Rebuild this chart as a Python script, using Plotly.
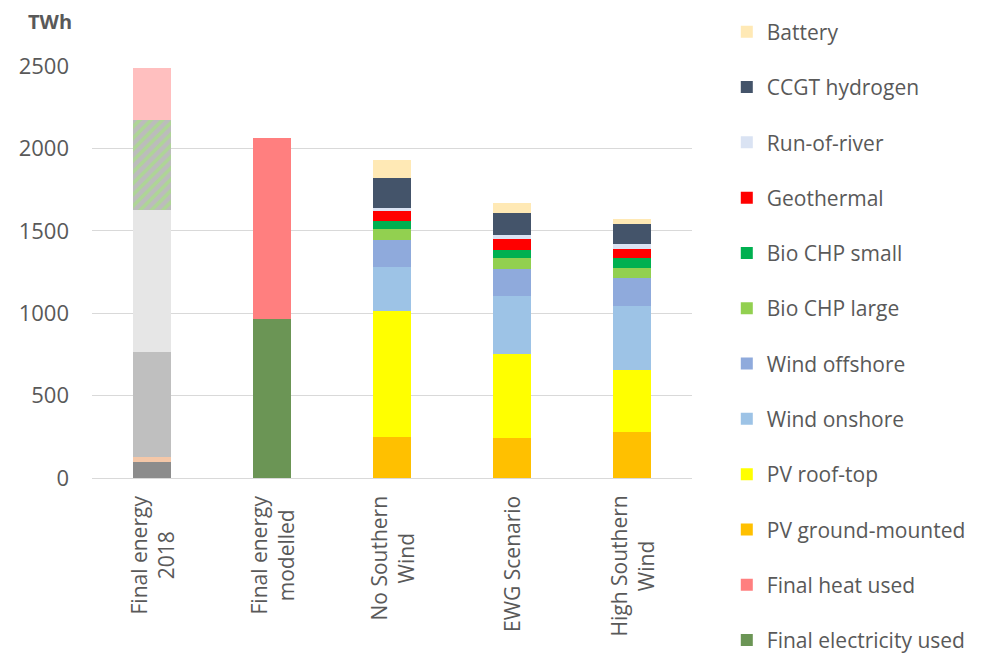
import plotly.graph_objects as go

categories = ["Final energy 2018", "Final energy modelled", "No Southern Wind",
              "EWG Scenario", "High Southern Wind"]
tick_labels = ["Final energy<br>2018", "Final energy<br>modelled", "No Southern<br>Wind",
               "EWG Scenario", "High Southern<br>Wind"]

# 2018 bar parts (not in legend), TWh
part_2018_a = [95, None, None, None, None]
part_2018_b = [30, None, None, None, None]
part_2018_c = [640, None, None, None, None]
part_2018_d = [860, None, None, None, None]
part_2018_e = [550, None, None, None, None]
part_2018_f = [310, None, None, None, None]

final_electricity = [None, 965, None, None, None]
final_heat = [None, 1100, None, None, None]
pv_ground = [None, None, 249, 241, 279]
pv_roof = [None, None, 767, 514, 375]
wind_onshore = [None, None, 262, 348, 390]
wind_offshore = [None, None, 166, 168, 172]
bio_chp_large = [None, None, 65, 64, 61]
bio_chp_small = [None, None, 50, 51, 58]
geothermal = [None, None, 59, 64, 57]
run_of_river = [None, None, 23, 25, 26]
ccgt_hydrogen = [None, None, 182, 135, 121]
battery = [None, None, 109, 61, 35]

y_ticks = [0, 500, 1000, 1500, 2000, 2500]

FONT = "Open Sans"
GREY = "#595959"

fig = go.Figure()

hidden = [
    ("2018 a", part_2018_a, "#8C8C8C", None),
    ("2018 b", part_2018_b, "#F4C7A8", None),
    ("2018 c", part_2018_c, "#BFBFBF", None),
    ("2018 d", part_2018_d, "#E6E6E6", None),
    ("2018 e", part_2018_e, "#BCBCBC", "#AED596"),
    ("2018 f", part_2018_f, "#FFBFBF", None),
]
for name, vals, col, fg in hidden:
    marker = dict(color=col, line=dict(width=0))
    if fg:
        marker["pattern"] = dict(shape="/", fgcolor=fg, bgcolor=col, size=8,
                                 solidity=0.45, fgopacity=1)
    fig.add_trace(go.Bar(x=categories, y=vals, name=name, marker=marker,
                         showlegend=False, hoverinfo="skip"))

series = [
    ("Final electricity used", final_electricity, "#6B9555"),
    ("Final heat used", final_heat, "#FF7F7F"),
    ("PV ground-mounted", pv_ground, "#FFC000"),
    ("PV roof-top", pv_roof, "#FFFF00"),
    ("Wind onshore", wind_onshore, "#9DC3E6"),
    ("Wind offshore", wind_offshore, "#8FAADC"),
    ("Bio CHP large", bio_chp_large, "#92D050"),
    ("Bio CHP small", bio_chp_small, "#00B050"),
    ("Geothermal", geothermal, "#FF0000"),
    ("Run-of-river", run_of_river, "#DAE3F3"),
    ("CCGT hydrogen", ccgt_hydrogen, "#44546A"),
    ("Battery", battery, "#FFE9B5"),
]
n = len(series)
for i, (name, vals, col) in enumerate(series):
    fig.add_trace(go.Bar(x=categories, y=vals, name=name, legendgroup=name,
                         legendrank=n - i,
                         marker=dict(color=col, line=dict(width=0))))

annotations = [
    dict(x=c, xref="x", y=0, yref="paper", yanchor="top", xanchor="center",
         text=t, textangle=-90, align="center", showarrow=False, yshift=-16,
         font=dict(family=FONT, size=21, color=GREY))
    for c, t in zip(categories, tick_labels)
]
annotations.append(dict(x=-0.0708, xref="paper", y=1.108, yref="paper",
                        xanchor="center", yanchor="middle", text="<b>TWh</b>",
                        showarrow=False, font=dict(family=FONT, size=20, color=GREY)))

fig.update_layout(
    width=988, height=655,
    margin=dict(l=92, r=296, t=66, b=177, autoexpand=False),
    barmode="stack", bargap=0.69,
    plot_bgcolor="white", paper_bgcolor="white",
    font=dict(family=FONT, color=GREY),
    xaxis=dict(showticklabels=False, showgrid=False, showline=True,
               linecolor="#D9D9D9", linewidth=1, ticks=""),
    yaxis=dict(range=[0, 2500], tickvals=y_ticks, showgrid=True,
               gridcolor="#D9D9D9", gridwidth=1, zeroline=False, ticks="",
               tickfont=dict(family=FONT, size=22, color=GREY),
               ticklabelstandoff=22),
    legend=dict(traceorder="grouped", tracegroupgap=25, maxheight=720,
                x=1.058, xanchor="left", y=1.132, yanchor="top",
                font=dict(family=FONT, size=21, color=GREY),
                itemclick=False, bgcolor="rgba(0,0,0,0)"),
    annotations=annotations,
)

fig.write_html("out.html", config={"displayModeBar": False},
               post_script="document.body.style.margin='0';document.body.style.overflow='hidden';")
